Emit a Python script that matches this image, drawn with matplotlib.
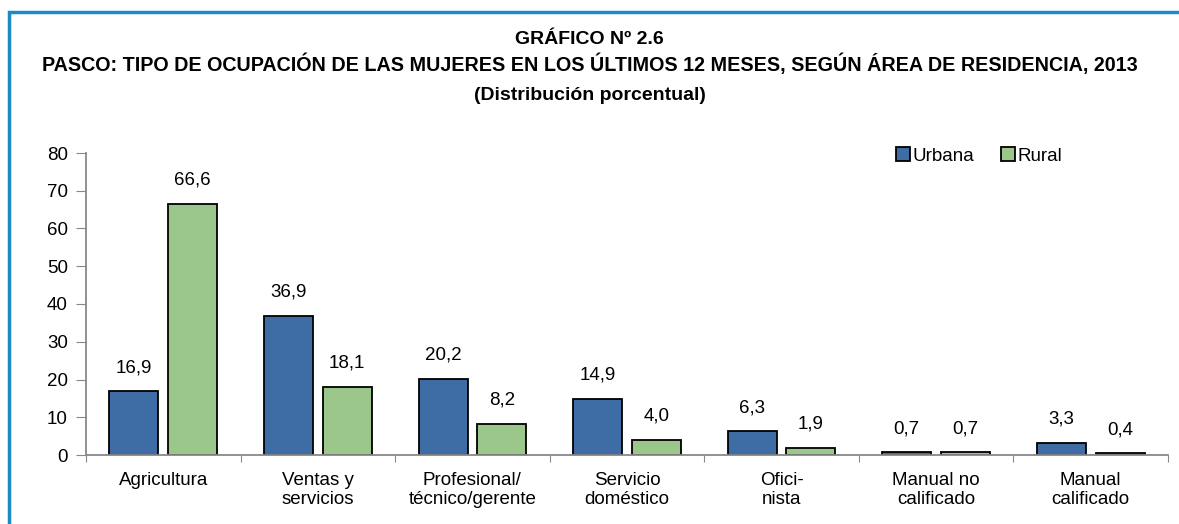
import matplotlib
matplotlib.use("Agg")
import matplotlib.pyplot as plt
import numpy as np
from matplotlib.patches import Rectangle

plt.rcParams['font.family'] = ['Liberation Sans', 'DejaVu Sans']

categorias = ["Agricultura", "Ventas y\nservicios", "Profesional/\ntécnico/gerente",
              "Servicio\ndoméstico", "Ofici-\nnista", "Manual no\ncalificado", "Manual\ncalificado"]
urbana = [16.9, 36.9, 20.2, 14.9, 6.3, 0.7, 3.3]
rural = [66.6, 18.1, 8.2, 4.0, 1.9, 0.7, 0.4]

c_urb = "#3e6da6"
c_rur = "#9bc88a"

fig = plt.figure(figsize=(11.79, 5.24), dpi=100)
ax = fig.add_axes([86 / 1179, 1 - 455 / 524, (1168 - 86) / 1179, (455 - 153) / 524])

# marco azul
fig.patches.append(Rectangle((9 / 1179, -0.01), 1.2, 1 - 12 / 524 + 0.01, transform=fig.transFigure,
                             fill=False, edgecolor="#1b8bc2", linewidth=2.5))

x = np.arange(len(categorias))
w = 0.317
b1 = ax.bar(x - 0.19, urbana, w, color=c_urb, edgecolor="black", linewidth=1.3, label="Urbana")
b2 = ax.bar(x + 0.19, rural, w, color=c_rur, edgecolor="black", linewidth=1.3, label="Rural")

for rects, vals in ((b1, urbana), (b2, rural)):
    for r, v in zip(rects, vals):
        ax.text(r.get_x() + r.get_width() / 2, v + 4, f"{v:.1f}".replace(".", ","),
                ha="center", va="bottom", fontsize=13.5)

ax.set_xlim(-0.5, len(categorias) - 0.5)
ax.set_ylim(0, 80)
ax.set_yticks(range(0, 81, 10))
ax.set_xticks(np.arange(-0.5, len(categorias), 1), minor=False)
ax.set_xticklabels([])
ax.set_xticks(x, minor=True)
ax.set_xticklabels(categorias, minor=True, fontsize=13.5, linespacing=1.15)
ax.tick_params(axis="x", which="minor", length=0, pad=12)
ax.tick_params(axis="x", which="major", length=5, color="#888888", direction="out")
ax.tick_params(axis="y", length=7, color="#888888", labelsize=13.5, pad=6)
for s in ("top", "right"):
    ax.spines[s].set_visible(False)
ax.spines["left"].set_color("#888888")
ax.spines["bottom"].set_color("#888888")
ax.spines["left"].set_linewidth(1.3)
ax.spines["bottom"].set_linewidth(1.3)

ax.legend(loc="upper right", bbox_to_anchor=(0.918, 1.075), ncol=2, frameon=False, fontsize=13.5,
          handlelength=0.75, handleheight=0.75, handletextpad=0.15, columnspacing=1.4)

fig.text(0.5, 1 - 40 / 524, "GRÁFICO Nº 2.6", ha="center", va="center", fontsize=14, fontweight="bold")
fig.text(0.5, 1 - 64 / 524, "PASCO: TIPO DE OCUPACIÓN DE LAS MUJERES EN LOS ÚLTIMOS 12 MESES, SEGÚN ÁREA DE RESIDENCIA, 2013",
         ha="center", va="center", fontsize=14.2, fontweight="bold")
fig.text(0.5, 1 - 95 / 524, "(Distribución porcentual)", ha="center", va="center", fontsize=14, fontweight="bold")

fig.savefig("out.png", dpi=100)
